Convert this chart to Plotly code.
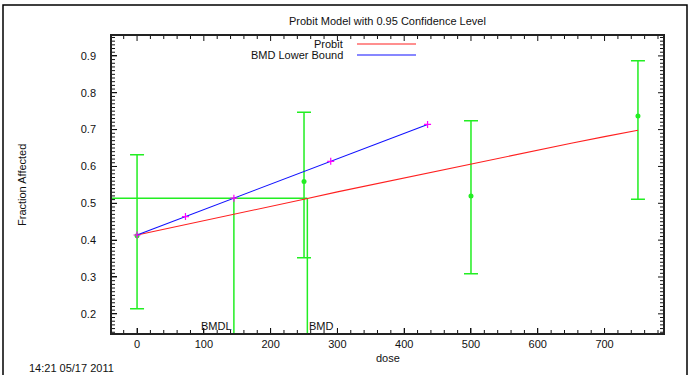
import plotly.graph_objects as go

# Observed dose groups with fraction affected and 95% confidence limits
dose = [0, 250, 500, 750]
frac = [0.412, 0.559, 0.520, 0.737]
ci_low = [0.214, 0.352, 0.309, 0.511]
ci_high = [0.632, 0.747, 0.724, 0.887]

# Fitted probit curve
probit_dose = [0, 50, 100, 150, 200, 250, 300, 350, 400, 450, 500, 550, 600, 650, 700, 750]
probit_frac = [0.414, 0.433, 0.453, 0.472, 0.492, 0.511, 0.531, 0.550, 0.569, 0.589,
               0.608, 0.627, 0.645, 0.663, 0.681, 0.698]

# Lower-bound line through the BMDL
lb_dose = [0, 72.5, 145, 290, 435]
lb_frac = [0.414, 0.464, 0.514, 0.614, 0.714]

# Benchmark response level, BMD and BMDL
bmr_level = 0.514
bmd = 255
bmdl = 145

x_range = [-37.5, 787.5]
y_range = [0.148, 0.954]

GREEN = "#22ee22"
FONT = "Liberation Sans, Arial, sans-serif"

fig = go.Figure()

# BMR horizontal line and BMD / BMDL verticals
fig.add_trace(go.Scatter(x=[x_range[0], bmd], y=[bmr_level, bmr_level], mode="lines",
                         line=dict(color=GREEN, width=1.5), showlegend=False, hoverinfo="skip"))
fig.add_trace(go.Scatter(x=[bmdl, bmdl], y=[y_range[0], bmr_level], mode="lines",
                         line=dict(color=GREEN, width=1.5), showlegend=False, hoverinfo="skip"))
fig.add_trace(go.Scatter(x=[bmd, bmd], y=[y_range[0], bmr_level], mode="lines",
                         line=dict(color=GREEN, width=1.5), showlegend=False, hoverinfo="skip"))

# Data with confidence intervals
fig.add_trace(go.Scatter(
    x=dose, y=frac, mode="markers",
    marker=dict(color=GREEN, size=5, symbol="circle"),
    error_y=dict(type="data", symmetric=False,
                 array=[h - m for h, m in zip(ci_high, frac)],
                 arrayminus=[m - l for m, l in zip(frac, ci_low)],
                 color=GREEN, thickness=1.5, width=7),
    showlegend=False))

# Probit fit
fig.add_trace(go.Scatter(x=probit_dose, y=probit_frac, mode="lines",
                         line=dict(color="#ff2020", width=1.1), showlegend=False))

# BMD lower bound
fig.add_trace(go.Scatter(x=lb_dose, y=lb_frac, mode="lines+markers",
                         line=dict(color="#1010ff", width=1.1),
                         marker=dict(color="#ff00ff", symbol="cross-thin", size=5,
                                     line=dict(color="#ff00ff", width=1.2)),
                         showlegend=False))

# Plot area geometry in pixels
L, R, T, B = 112, 663, 36, 333
W, H = 691, 375


def px(xp):
    return (xp - L) / (R - L)


def py(yp):
    return (B - yp) / (B - T)


shapes = [
    # outer frame
    dict(type="rect", xref="paper", yref="paper", x0=px(3), x1=px(687), y0=py(5), y1=py(420),
         line=dict(color="black", width=1.5), fillcolor="rgba(0,0,0,0)", layer="below"),
    # legend samples
    dict(type="line", xref="paper", yref="paper", x0=px(357), x1=px(416), y0=py(44), y1=py(44),
         line=dict(color="#ff2020", width=1.1)),
    dict(type="line", xref="paper", yref="paper", x0=px(357), x1=px(416), y0=py(55), y1=py(55),
         line=dict(color="#1010ff", width=1.1)),
]

# Inward tick marks on all four sides (major every 100 / 0.1, minor every 20 / 0.01)
tick_line = dict(color="#111", width=1)
for i in range(-1, 40):
    v = 20 * i
    if not (x_range[0] <= v <= x_range[1]):
        continue
    ln = 5 if v % 100 == 0 else 3
    for anchor, sign in ((y_range[0], 1), (y_range[1], -1)):
        shapes.append(dict(type="line", xref="x", yref="y", ysizemode="pixel", yanchor=anchor,
                           x0=v, x1=v, y0=0, y1=sign * ln, line=tick_line))
for i in range(14, 96):
    v = i / 100
    if not (y_range[0] <= v <= y_range[1]):
        continue
    ln = 5 if i % 10 == 0 else 3
    for anchor, sign in ((x_range[0], 1), (x_range[1], -1)):
        shapes.append(dict(type="line", xref="x", yref="y", xsizemode="pixel", xanchor=anchor,
                           y0=v, y1=v, x0=0, x1=sign * ln, line=tick_line))

ann_font = dict(family=FONT, size=11, color="#111")
annotations = [
    dict(text="Probit Model with 0.95 Confidence Level", xref="paper", yref="paper",
         x=0.5, y=py(21), showarrow=False, xanchor="center", yanchor="middle", font=ann_font),
    dict(text="Probit", xref="paper", yref="paper", x=px(345), y=py(44), showarrow=False,
         xanchor="right", yanchor="middle", font=ann_font),
    dict(text="BMD Lower Bound", xref="paper", yref="paper", x=px(345), y=py(55), showarrow=False,
         xanchor="right", yanchor="middle", font=ann_font),
    dict(text="Fraction Affected", xref="paper", yref="paper", x=px(22), y=py(185), textangle=-90,
         showarrow=False, xanchor="center", yanchor="middle", font=ann_font),
    dict(text="dose", xref="paper", yref="paper", x=0.5, y=py(358), showarrow=False,
         xanchor="center", yanchor="middle", font=ann_font),
    dict(text="14:21 05/17 2011", xref="paper", yref="paper", x=px(27), y=py(368), showarrow=False,
         xanchor="left", yanchor="middle", font=ann_font),
    dict(text="BMDL", x=bmdl, y=py(326), xref="x", yref="paper", showarrow=False,
         xanchor="right", yanchor="middle", font=ann_font),
    dict(text="BMD", x=bmd, y=py(326), xref="x", yref="paper", showarrow=False,
         xanchor="left", yanchor="middle", font=ann_font),
]

axis_common = dict(
    showgrid=False, zeroline=False, showline=True, linecolor="#222", linewidth=1.5,
    mirror=True, ticks="inside", ticklen=5, tickwidth=1, tickcolor="#111",
    tickfont=dict(family=FONT, size=11, color="#111"),
)

fig.update_layout(
    width=W, height=H,
    margin=dict(l=L, r=W - R, t=T, b=H - B, pad=0),
    paper_bgcolor="white", plot_bgcolor="white",
    xaxis=dict(range=x_range, tickmode="linear", tick0=0, dtick=100, ticklabelstandoff=0,
               **axis_common),
    yaxis=dict(range=y_range, tickmode="linear", tick0=0.2, dtick=0.1, tickformat=".1f",
               ticklabelstandoff=12, **axis_common),
    shapes=shapes,
    annotations=annotations,
    showlegend=False,
)

fig.write_html("out.html")
